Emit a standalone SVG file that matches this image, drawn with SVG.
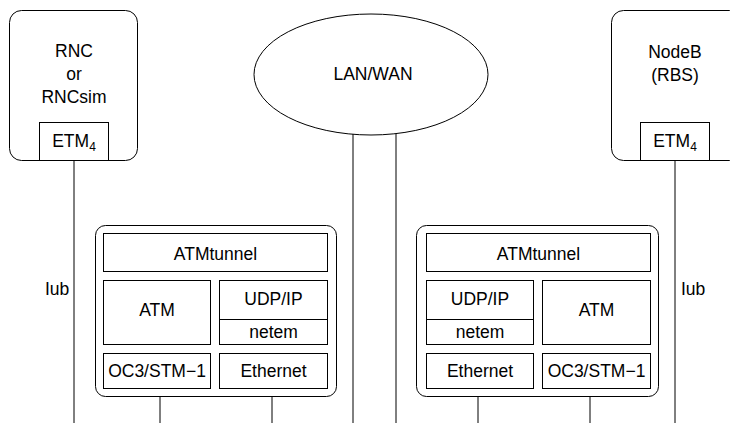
<svg xmlns="http://www.w3.org/2000/svg" width="730" height="423" viewBox="0 0 730 423">
  <style>
    .box { fill: #ffffff; stroke: #000000; stroke-width: 1; }
    .line { stroke: #000000; stroke-width: 1; fill: none; }
    text { font-family: "Liberation Sans", Arial, sans-serif; font-size: 17.5px; fill: #000000; }
    .c { text-anchor: middle; }
    .sub { font-size: 12px; }
  </style>
  <rect width="730" height="423" fill="#ffffff"/>

  <!-- connectors -->
  <g id="connectors">
    <line class="line" x1="74" y1="161" x2="74" y2="423"/>
    <line class="line" x1="675" y1="161" x2="675" y2="423"/>
    <line class="line" x1="353" y1="134" x2="353" y2="423"/>
    <line class="line" x1="396" y1="134" x2="396" y2="423"/>
    <line class="line" x1="160" y1="389" x2="160" y2="423"/>
    <line class="line" x1="272" y1="389" x2="272" y2="423"/>
    <line class="line" x1="478" y1="389" x2="478" y2="423"/>
    <line class="line" x1="590" y1="389" x2="590" y2="423"/>
    <text x="45" y="295">Iub</text>
    <text x="681" y="295">Iub</text>
  </g>

  <!-- radio network controller -->
  <g id="rnc">
    <rect class="box" x="9.5" y="10.5" width="128" height="150" rx="12"/>
    <text class="c" x="74" y="57">RNC</text>
    <text class="c" x="74" y="80">or</text>
    <text class="c" x="74" y="103">RNCsim</text>
    <rect class="box" x="39.5" y="122.5" width="69" height="38"/>
    <text class="c" x="74" y="147">ETM<tspan class="sub" dy="4">4</tspan></text>
  </g>

  <!-- base station -->
  <g id="nodeb">
    <rect class="box" x="611.5" y="10.5" width="130" height="150" rx="12"/>
    <text class="c" x="675" y="58">NodeB</text>
    <text class="c" x="675" y="81">(RBS)</text>
    <rect class="box" x="640.5" y="122.5" width="69" height="38"/>
    <text class="c" x="675" y="147">ETM<tspan class="sub" dy="4">4</tspan></text>
  </g>

  <!-- network cloud -->
  <g id="lanwan">
    <ellipse class="box" cx="371" cy="74.5" rx="117" ry="60.5"/>
    <text class="c" x="373" y="80">LAN/WAN</text>
  </g>

  <!-- tunnel gateway, RNC side -->
  <g id="tunnel-left">
    <rect class="box" x="95.5" y="225.5" width="241" height="171" rx="10"/>
    <rect class="box" x="103.5" y="233.5" width="224" height="38"/>
    <text class="c" x="215.5" y="260">ATMtunnel</text>
    <rect class="box" x="103.5" y="280.5" width="107" height="64"/>
    <text class="c" x="157" y="316">ATM</text>
    <rect class="box" x="219.5" y="280.5" width="108" height="64"/>
    <line class="line" x1="219.5" y1="319.5" x2="327.5" y2="319.5"/>
    <text class="c" x="273.5" y="305">UDP/IP</text>
    <text class="c" x="273.5" y="338">netem</text>
    <rect class="box" x="103.5" y="353.5" width="107" height="35"/>
    <text class="c" x="157" y="377">OC3/STM−1</text>
    <rect class="box" x="219.5" y="353.5" width="108" height="35"/>
    <text class="c" x="273.5" y="377">Ethernet</text>
  </g>

  <!-- tunnel gateway, NodeB side -->
  <g id="tunnel-right">
    <rect class="box" x="416.5" y="225.5" width="242" height="171" rx="10"/>
    <rect class="box" x="426.5" y="233.5" width="224" height="38"/>
    <text class="c" x="538.5" y="260">ATMtunnel</text>
    <rect class="box" x="426.5" y="280.5" width="107" height="64"/>
    <line class="line" x1="426.5" y1="319.5" x2="533.5" y2="319.5"/>
    <text class="c" x="480" y="305">UDP/IP</text>
    <text class="c" x="480" y="338">netem</text>
    <rect class="box" x="542.5" y="280.5" width="108" height="64"/>
    <text class="c" x="596.5" y="316">ATM</text>
    <rect class="box" x="426.5" y="353.5" width="107" height="35"/>
    <text class="c" x="480" y="377">Ethernet</text>
    <rect class="box" x="542.5" y="353.5" width="108" height="35"/>
    <text class="c" x="596.5" y="377">OC3/STM−1</text>
  </g>
</svg>
